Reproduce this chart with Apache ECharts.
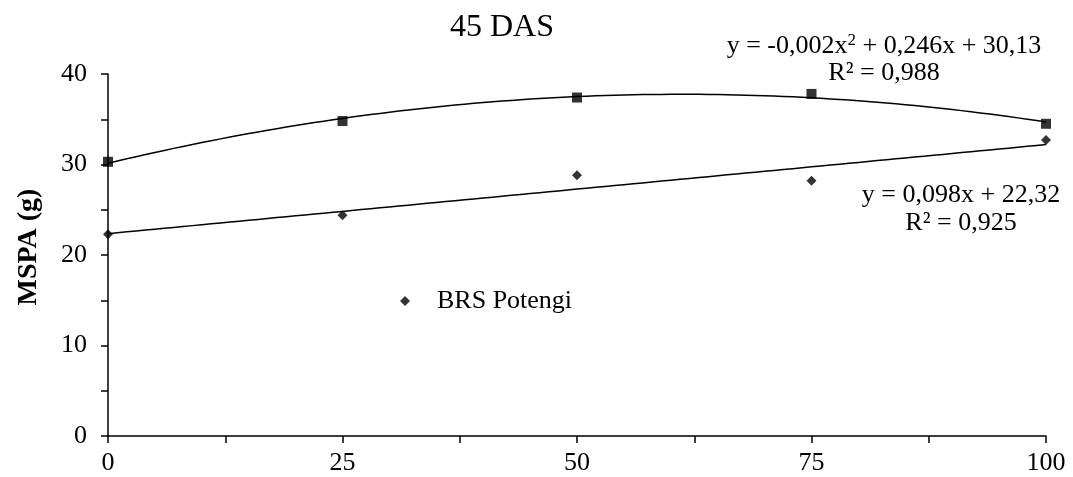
<!DOCTYPE html>
<html>
<head>
<meta charset="utf-8">
<script src="https://cdn.jsdelivr.net/npm/echarts@6/dist/echarts.min.js"></script>
<style>
html,body{margin:0;padding:0;background:#fff;}
#chart{width:1073px;height:477px;}
</style>
</head>
<body>
<div id="chart"></div>
<script>
// ---- data ----
const doses = [0, 25, 50, 75, 100];
const seriesSquareValues = [30.3, 34.8, 37.4, 37.8, 34.5];
const seriesDiamondValues = [22.3, 24.4, 28.8, 28.2, 32.7];
const legendNames = ['BRS Potengi'];
const titleText = '45 DAS';
const yAxisName = 'MSPA (g)';
const eqSquare = ['y = -0,002x', '2', ' + 0,246x + 30,13'];
const r2Square = 'R² = 0,988';
const eqDiamond = 'y = 0,098x + 22,32';
const r2Diamond = 'R² = 0,925';

// least squares polynomial fit (degree 1 or 2) from the data arrays
function polyfit(xs, ys, deg) {
  const n = deg + 1;
  const A = [];
  for (let i = 0; i < n; i++) {
    A.push([]);
    for (let j = 0; j <= n; j++) A[i].push(0);
  }
  for (let k = 0; k < xs.length; k++) {
    for (let i = 0; i < n; i++) {
      for (let j = 0; j < n; j++) A[i][j] += Math.pow(xs[k], i + j);
      A[i][n] += ys[k] * Math.pow(xs[k], i);
    }
  }
  for (let i = 0; i < n; i++) {
    let p = i;
    for (let r = i + 1; r < n; r++) if (Math.abs(A[r][i]) > Math.abs(A[p][i])) p = r;
    [A[i], A[p]] = [A[p], A[i]];
    for (let r = 0; r < n; r++) {
      if (r === i) continue;
      const f = A[r][i] / A[i][i];
      for (let c = i; c <= n; c++) A[r][c] -= f * A[i][c];
    }
  }
  return A.map((row, i) => row[n] / row[i]);
}
function curve(coef) {
  const pts = [];
  for (let x = doses[0]; x <= doses[doses.length - 1] + 1e-9; x += 1) {
    let y = 0;
    coef.forEach((c, i) => { y += c * Math.pow(x, i); });
    pts.push([x, y]);
  }
  return pts;
}
const fitSquare = curve(polyfit(doses, seriesSquareValues, 2));
const fitDiamond = curve(polyfit(doses, seriesDiamondValues, 1));

const FONT = "'Liberation Serif', 'Times New Roman', serif";
const FS = 26;
const chart = echarts.init(document.getElementById('chart'), null, {renderer: 'canvas'});
const axisLine = {show: true, onZero: false, lineStyle: {color: '#000', width: 1.5}};
const tick = {show: true, inside: false, length: 7, lineStyle: {color: '#000', width: 1.5}};
const minor = {show: true, splitNumber: 2, length: 7, lineStyle: {color: '#000', width: 1.5}};
const txt = (t, x, y) => ({type: 'text', x: x, y: y, style: {text: t, fontFamily: FONT, fontSize: FS, fill: '#000', align: 'center', verticalAlign: 'middle'}});

chart.setOption({
  backgroundColor: '#fff',
  animation: false,
  title: {
    text: titleText, left: 497, top: 7, textAlign: 'center',
    textStyle: {fontFamily: FONT, fontSize: 32, fontWeight: 'normal', color: '#000'}
  },
  grid: {left: 108, right: 27, top: 74, bottom: 41, containLabel: false},
  legend: {
    data: legendNames.map(n => ({name: n, icon: 'diamond'})),
    left: 395, top: 283, itemWidth: 10, itemHeight: 10,
    textStyle: {fontFamily: FONT, fontSize: FS, color: '#000', padding: [0, 0, 0, 22]}
  },
  xAxis: {
    type: 'value', min: 0, max: 100, interval: 25,
    axisLine: axisLine, axisTick: tick, minorTick: minor,
    splitLine: {show: false},
    axisLabel: {fontFamily: FONT, fontSize: FS, color: '#000', margin: 14}
  },
  yAxis: {
    type: 'value', min: 0, max: 40, interval: 10,
    name: yAxisName, nameLocation: 'middle', nameGap: 65, nameRotate: 90,
    nameTextStyle: {fontFamily: FONT, fontSize: 28, fontWeight: 'bold', color: '#000', padding: [0, 0, 0, 16]},
    axisLine: axisLine, axisTick: tick, minorTick: minor,
    splitLine: {show: false},
    axisLabel: {fontFamily: FONT, fontSize: FS, color: '#000', margin: 21}
  },
  graphic: [
    {
      type: 'text', x: 884, y: 46,
      style: {
        rich: {
          n: {fontFamily: FONT, fontSize: FS, fill: '#000'},
          s: {fontFamily: FONT, fontSize: 17, fill: '#000', verticalAlign: 'top', padding: [0, 0, 11, 0]}
        },
        text: '{n|' + eqSquare[0] + '}{s|' + eqSquare[1] + '}{n|' + eqSquare[2] + '}',
        align: 'center', verticalAlign: 'middle'
      }
    },
    txt(r2Square, 884, 73),
    txt(eqDiamond, 961, 195),
    txt(r2Diamond, 961, 223)
  ],
  series: [
    {
      name: 'fitSquare', type: 'line', data: fitSquare, showSymbol: false, silent: true,
      lineStyle: {color: '#000', width: 1.5}, z: 1
    },
    {
      name: 'fitDiamond', type: 'line', data: fitDiamond, showSymbol: false, silent: true,
      lineStyle: {color: '#000', width: 1.5}, z: 1
    },
    {
      name: 'squares', type: 'scatter', symbol: 'rect', symbolSize: 10,
      data: doses.map((x, i) => [x, seriesSquareValues[i]]),
      itemStyle: {color: '#000'}, z: 3
    },
    {
      name: legendNames[0], type: 'scatter', symbol: 'diamond', symbolSize: 10,
      data: doses.map((x, i) => [x, seriesDiamondValues[i]]),
      itemStyle: {color: '#000'}, z: 3
    }
  ]
});
</script>
</body>
</html>
